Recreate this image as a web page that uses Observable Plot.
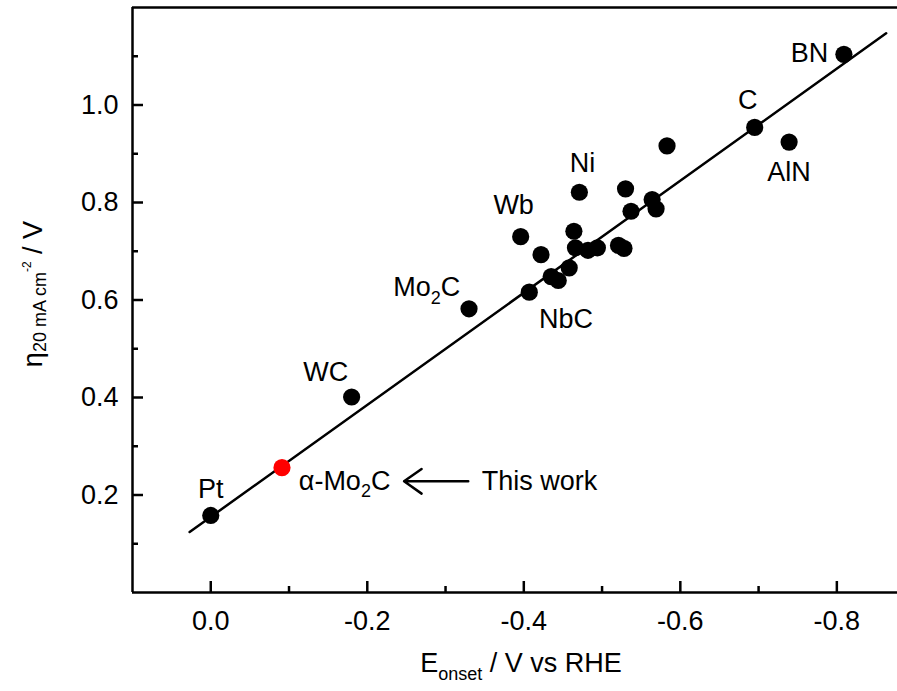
<!DOCTYPE html>
<html>
<head>
<meta charset="utf-8">
<script src="https://cdn.jsdelivr.net/npm/d3@7"></script>
<script src="https://cdn.jsdelivr.net/npm/@observablehq/plot@0.6"></script>
<style>
  html, body { margin: 0; padding: 0; background: #ffffff; }
  #chart svg { display: block; }
</style>
</head>
<body>
<div id="chart"></div>
<script>
// ---- tick values ----
const xTicks = [0, -0.2, -0.4, -0.6, -0.8];
const xMinorTicks = [-0.1, -0.3, -0.5, -0.7];
const yTicks = [0.2, 0.4, 0.6, 0.8, 1.0];
const yMinorTicks = [0.1, 0.3, 0.5, 0.7, 0.9, 1.1];
const xDomain = [0.1, -0.8775];
const yDomain = [0, 1.2];

// ---- literature catalysts (black dots) ----
const onset = [0.000, -0.180, -0.330, -0.407, -0.396, -0.422, -0.435, -0.444, -0.458, -0.464,
               -0.471, -0.466, -0.482, -0.494, -0.521, -0.528, -0.530, -0.537, -0.564, -0.569,
               -0.583, -0.695, -0.739, -0.809];
const eta   = [0.158, 0.401, 0.582, 0.616, 0.730, 0.693, 0.648, 0.640, 0.666, 0.741,
               0.821, 0.707, 0.702, 0.707, 0.712, 0.706, 0.828, 0.782, 0.806, 0.787,
               0.916, 0.954, 0.924, 1.104];

// ---- this work (red dot) ----
const thisWorkOnset = [-0.091];
const thisWorkEta = [0.256];

// ---- linear fit line end points ----
const fitOnset = [0.027, -0.863];
const fitEta = [0.124, 1.147];

// ---- annotations ----
const labelText  = ["Pt", "WC", "Mo_{2}C", "NbC", "Wb", "Ni", "C", "BN", "AlN", "α-Mo_{2}C", "This work"];
const labelOnset = [0.000, -0.147, -0.276, -0.454, -0.387, -0.475, -0.686, -0.765, -0.739, -0.171, -0.420];
const labelEta   = [0.212, 0.451, 0.626, 0.561, 0.794, 0.880, 1.010, 1.106, 0.862, 0.229, 0.229];
const arrowOnset = [-0.329, -0.247];   // tail, head
const arrowEta   = [0.228, 0.228];

const xTitle = "E_{onset} / V vs RHE";
const yTitle = "η_{20 mA cm}^{-2} / V";

// ---- build tables ----
const pts = onset.map((x, i) => ({x, y: eta[i]}));
const red = thisWorkOnset.map((x, i) => ({x, y: thisWorkEta[i]}));
const fit = fitOnset.map((x, i) => ({x, y: fitEta[i]}));
const labels = labelText.map((t, i) => ({t, x: labelOnset[i], y: labelEta[i]}));
const arrows = [{x1: arrowOnset[0], x2: arrowOnset[1], y1: arrowEta[0], y2: arrowEta[1]}];

const W = 897, H = 691;
const mL = 132, mR = 0, mT = 7, mB = 99;
const frameW = W - mL - mR, frameH = H - mT - mB;
const fmt = d => d.toFixed(1);
const LW = 2.5;

const plot = Plot.plot({
  width: W,
  height: H,
  marginLeft: mL, marginRight: mR, marginTop: mT, marginBottom: mB,
  style: {fontFamily: "'Liberation Sans', Arial, sans-serif", fontSize: "27px", color: "#000", background: "#fff"},
  x: {domain: xDomain},
  y: {domain: yDomain},
  marks: [
    // axis frame (left, bottom, top)
    Plot.ruleX([xDomain[0]], {stroke: "#000", strokeWidth: LW}),
    Plot.ruleY([yDomain[0]], {stroke: "#000", strokeWidth: LW}),
    Plot.ruleY([yDomain[1]], {stroke: "#000", strokeWidth: LW}),
    // inward ticks
    Plot.tickX(xTicks, {x: d => d, insetTop: frameH - 11, stroke: "#000", strokeWidth: LW}),
    Plot.tickX(xMinorTicks, {x: d => d, insetTop: frameH - 6, stroke: "#000", strokeWidth: LW}),
    Plot.tickY(yTicks, {y: d => d, insetRight: frameW - 11, stroke: "#000", strokeWidth: LW}),
    Plot.tickY(yMinorTicks, {y: d => d, insetRight: frameW - 6, stroke: "#000", strokeWidth: LW}),
    // tick labels
    Plot.axisX({ticks: xTicks, tickSize: 0, tickPadding: 18, tickFormat: fmt, label: null, fill: "#000"}),
    Plot.axisY({ticks: yTicks, tickSize: 0, tickPadding: 14, tickFormat: fmt, label: null, fill: "#000"}),
    // fit line
    Plot.line(fit, {x: "x", y: "y", stroke: "#000", strokeWidth: LW}),
    // data
    Plot.dot(pts, {x: "x", y: "y", r: 8.6, fill: "#000", stroke: "none"}),
    Plot.dot(red, {x: "x", y: "y", r: 8.6, fill: "#ff0000", stroke: "none"}),
    // annotations
    Plot.text(labels, {x: "x", y: "y", text: "t", fill: "#000", textAnchor: "middle"}),
    Plot.arrow(arrows, {x1: "x1", y1: "y1", x2: "x2", y2: "y2", stroke: "#000", strokeWidth: LW, headLength: 13, headAngle: 70}),
    // axis titles
    Plot.text([xTitle], {text: d => d, frameAnchor: "bottom", textAnchor: "middle", lineAnchor: "middle", dy: 71, dx: 6, fill: "#000"}),
    Plot.text([yTitle], {text: d => d, frameAnchor: "left", textAnchor: "middle", lineAnchor: "middle", rotate: -90, dx: -99, dy: -6, fill: "#000"})
  ]
});

// turn _{..} and ^{..} markup into real sub/superscript tspans
d3.select(plot).selectAll("text").each(function() {
  const t = this.textContent;
  if (!/[_^]\{/.test(t)) return;
  const isY = t.startsWith("η");
  const subDrop = isY ? 4 : 8;
  const supRise = 11;
  const subSize = 18;
  const supSize = 12;
  const sel = d3.select(this);
  sel.text(null);
  const re = /([_^])\{([^}]*)\}|([^_^]+)/g;
  let m, cur = 0;
  while ((m = re.exec(t))) {
    const kind = m[1] === "_" ? "sub" : m[1] === "^" ? "sup" : "n";
    const s = m[1] ? m[2] : m[3];
    const off = kind === "sub" ? subDrop : kind === "sup" ? -supRise : 0;
    const ts = sel.append("tspan").attr("dy", off - cur).text(s);
    if (kind === "sub") ts.attr("font-size", subSize);
    if (kind === "sup") ts.attr("font-size", supSize);
    cur = off;
  }
  this.setAttribute("xml:space", "preserve");
});

document.getElementById("chart").appendChild(plot);
</script>
</body>
</html>
